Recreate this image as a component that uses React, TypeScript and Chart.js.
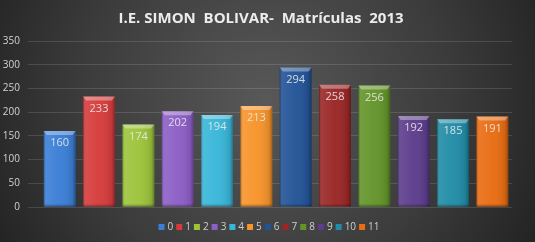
import React, { useEffect, useRef } from "react";
import { Chart, registerables } from "chart.js";

Chart.register(...registerables);

// Enrolment per grade group (legend entries 0–11)
const seriesNames = ["0", "1", "2", "3", "4", "5", "6", "7", "8", "9", "10", "11"];
const enrolment = [160, 233, 174, 202, 194, 213, 294, 258, 256, 192, 185, 191];
const barColors = [
  "#3a7ed6", "#d63b3b", "#9cc43b", "#8c5ec6", "#38b6d8", "#f7942a",
  "#225396", "#9a2626", "#63942a", "#5c3c8c", "#208ca6", "#e96c12",
];
const yTicks = [0, 50, 100, 150, 200, 250, 300, 350];
const titleText = "I.E. SIMON  BOLIVAR-  Matrículas  2013";

// Dark radial backdrop behind the whole chart
const backdrop = {
  id: "backdrop",
  beforeDraw(chart: Chart) {
    const { ctx, width, height } = chart;
    const g = ctx.createRadialGradient(265, 100, 0, 265, 100, 340);
    g.addColorStop(0, "#585858");
    g.addColorStop(0.55, "#3b3b3b");
    g.addColorStop(1, "#1c1c1c");
    ctx.save();
    ctx.fillStyle = g;
    ctx.fillRect(0, 0, width, height);
    ctx.restore();
  },
};

// Heading centred over the plot
const heading = {
  id: "heading",
  afterDraw(chart: Chart) {
    const { ctx } = chart;
    ctx.save();
    ctx.fillStyle = "#ececec";
    ctx.font = "bold 15px 'Open Sans', sans-serif";
    ctx.textAlign = "center";
    ctx.textBaseline = "middle";
    ctx.fillText(titleText, 261, 19);
    ctx.restore();
  },
};

// Nudge the legend row so it sits centred under the bars
const legendShift = {
  id: "legendShift",
  afterLayout(chart: any) {
    const lg = chart.legend;
    if (lg) {
      lg.left += 14;
      lg.right += 14;
    }
  },
};

// Bevel shading on each bar plus its value label near the top
const barFinish = {
  id: "barFinish",
  afterDatasetsDraw(chart: Chart) {
    const { ctx } = chart;
    ctx.save();
    chart.data.datasets.forEach((ds, di) => {
      const meta = chart.getDatasetMeta(di);
      meta.data.forEach((el: any, i: number) => {
        const { x, y, base, width } = el.getProps(["x", "y", "base", "width"], true);
        const x0 = x - width / 2;
        const x1 = x + width / 2;
        const h = base - y;
        const g = ctx.createLinearGradient(x0, 0, x1, 0);
        g.addColorStop(0, "rgba(0,0,0,0.30)");
        g.addColorStop(0.08, "rgba(255,255,255,0.10)");
        g.addColorStop(0.5, "rgba(255,255,255,0.03)");
        g.addColorStop(0.9, "rgba(0,0,0,0.10)");
        g.addColorStop(1, "rgba(0,0,0,0.35)");
        ctx.fillStyle = g;
        ctx.fillRect(x0, y, width, h);
        // top bevel
        ctx.beginPath();
        ctx.moveTo(x0, y);
        ctx.lineTo(x1, y);
        ctx.lineTo(x1 - 3, y + 4);
        ctx.lineTo(x0 + 3, y + 4);
        ctx.closePath();
        ctx.fillStyle = "rgba(255,255,255,0.35)";
        ctx.fill();
        // bottom shade
        ctx.fillStyle = "rgba(0,0,0,0.18)";
        ctx.fillRect(x0, base - 2, width, 2);

        const v = (ds.data as number[])[i];
        ctx.fillStyle = "rgba(235,235,235,0.88)";
        ctx.font = "11px 'Open Sans', sans-serif";
        ctx.textAlign = "center";
        ctx.textBaseline = "middle";
        ctx.fillText(String(v), x, y + 12);
      });
    });
    ctx.restore();
  },
};

export default function App() {
  const ref = useRef<HTMLCanvasElement | null>(null);

  useEffect(() => {
    if (!ref.current) return;
    const chart = new Chart(ref.current, {
      type: "bar",
      data: {
        labels: [""],
        datasets: seriesNames.map((name, i) => ({
          label: name,
          data: [enrolment[i]],
          backgroundColor: barColors[i],
          borderWidth: 0,
          categoryPercentage: 1,
          barPercentage: 0.81,
        })),
      },
      options: {
        responsive: false,
        animation: false,
        events: [],
        layout: { padding: { left: 0, right: 23, top: 41, bottom: 0 } },
        plugins: {
          title: { display: false },
          legend: {
            position: "bottom",
            labels: {
              color: "#cfcfcf",
              font: { family: "'Open Sans', sans-serif", size: 10 },
              // slim core box thickened by a same-colour stroke into a 6px marker
              boxWidth: 2,
              boxHeight: 2,
              padding: 5,
              generateLabels: (chart: Chart) =>
                Chart.defaults.plugins.legend.labels.generateLabels(chart).map((item: any, i: number) => ({
                  ...item,
                  fillStyle: barColors[i],
                  strokeStyle: barColors[i],
                  lineWidth: 4,
                  lineJoin: "miter",
                  lineDash: [],
                })),
            },
          },
          tooltip: { enabled: false },
        },
        scales: {
          x: {
            display: true,
            grid: { display: false },
            border: { display: false },
            ticks: { display: false },
            afterFit: (s: any) => {
              s.height = 10;
            },
          },
          y: {
            min: 0,
            max: 350,
            afterBuildTicks: (s: any) => {
              s.ticks = yTicks.map((v) => ({ value: v }));
            },
            afterFit: (s: any) => {
              s.width = 40;
            },
            grid: {
              color: "rgba(255,255,255,0.13)",
              tickLength: 12,
              drawTicks: true,
            },
            border: { display: false },
            ticks: {
              color: "#d2d2d2",
              padding: 8,
              font: { family: "'Open Sans', sans-serif", size: 10 },
            },
          },
        },
      },
      plugins: [backdrop, barFinish, heading, legendShift],
    });
    return () => chart.destroy();
  }, []);

  return (
    <div style={{ position: "fixed", left: 0, top: 0, width: 535, height: 242 }}>
      <canvas ref={ref} width={535} height={242} style={{ display: "block" }} />
    </div>
  );
}
